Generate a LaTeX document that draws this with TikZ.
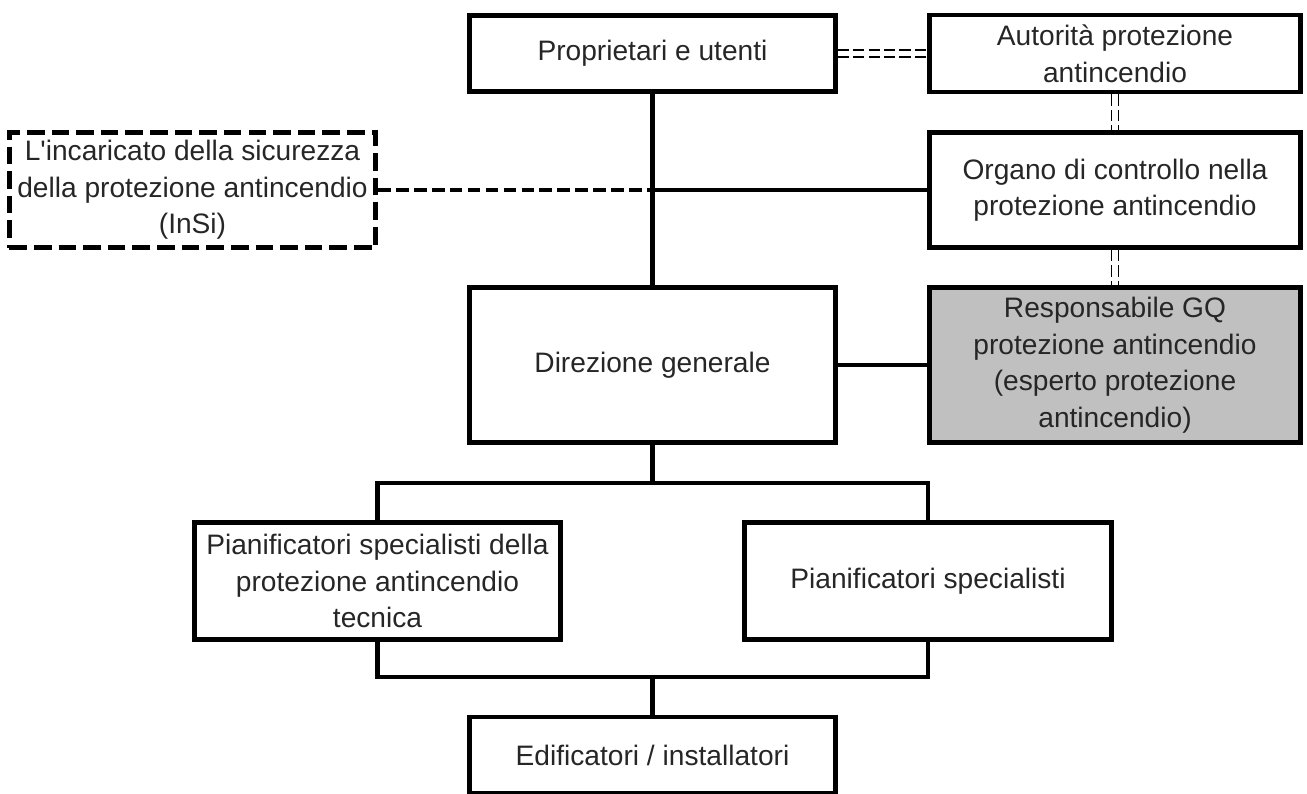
\documentclass[tikz,border=0pt]{standalone}
\usepackage{fontspec}
\setmainfont{Liberation Sans}
\usepackage{xcolor}
\usepackage{tikz}
\definecolor{gqgray}{RGB}{192,192,192}

\begin{document}
\begin{tikzpicture}[x=0.01cm, y=-0.01cm,
  box/.style={draw, line width=1.4pt, align=center, inner sep=0pt,
    font=\fontsize{8}{10.4}\selectfont, text=black!85},
  dashbox/.style={box, dash pattern=on 5pt off 2pt},
  link/.style={line width=1.4pt},
  dashlink/.style={line width=1.4pt, dash pattern=on 3.6pt off 1.5pt},
  dlink/.style={line width=0.5pt, double, double distance=1.5pt, dash pattern=on 3.2pt off 1.2pt}]

\useasboundingbox (0,0) rectangle (1307,793);

\node[box, minimum width=3.65cm, minimum height=0.76cm] (prop) at (652.5,53.5) {Proprietari e utenti};
\node[box, minimum width=3.71cm, minimum height=0.77cm] (aut) at (1115,53.5) {Autorità protezione\\antincendio};
\node[box, minimum width=3.71cm, minimum height=1.15cm] (org) at (1115,190) {Organo di controllo nella\\protezione antincendio};
\node[dashbox, minimum width=3.66cm, minimum height=1.15cm] (insi) at (192.5,190) {L\textquotesingle incaricato della sicurezza\\della protezione antincendio\\(InSi)};
\node[box, minimum width=3.66cm, minimum height=1.55cm] (dir) at (652.5,365) {Direzione generale};
\node[box, fill=gqgray, minimum width=3.71cm, minimum height=1.55cm] (resp) at (1115,365) {Responsabile GQ\\protezione antincendio\\(esperto protezione\\antincendio)};
\node[box, minimum width=3.66cm, minimum height=1.17cm] (pft) at (377.5,581) {Pianificatori specialisti della\\protezione antincendio\\tecnica};
\node[box, minimum width=3.66cm, minimum height=1.17cm] (ps) at (928,581) {Pianificatori specialisti};
\node[box, minimum width=3.66cm, minimum height=0.76cm] (edif) at (652.5,755) {Edificatori / installatori};

\coordinate (j) at (prop.south |- org.west);
\coordinate (up) at (dir.south |- 0,483);
\coordinate (lo) at (edif.north |- 0,677);

\draw[link] (prop.south) -- (dir.north);
\draw[link] (j) -- (org.west);
\draw[dashlink] (insi.east) -- (j);
\draw[link] (dir.east) -- (resp.west);

\draw[dlink] (prop.east) -- (aut.west);
\draw[dlink] (aut.south) -- (org.north);
\draw[dlink] (org.south) -- (resp.north);

\draw[link] (dir.south) -- (up);
\draw[link] (pft.north) |- (up) -| (ps.north);
\draw[link] (pft.south) |- (lo) -| (ps.south);
\draw[link] (lo) -- (edif.north);

\end{tikzpicture}
\end{document}
